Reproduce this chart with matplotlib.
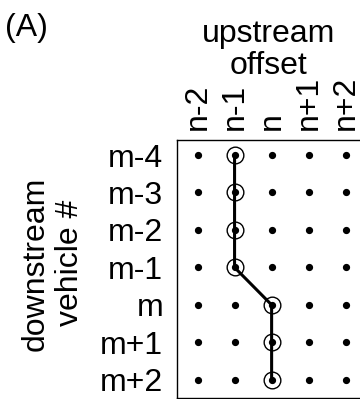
import numpy as np
import matplotlib
matplotlib.use("Agg")
import matplotlib.pyplot as plt

plt.rcParams["font.family"] = ["Liberation Sans", "DejaVu Sans"]

upstream_labels = ["n-2", "n-1", "n", "n+1", "n+2"]
downstream_labels = ["m-4", "m-3", "m-2", "m-1", "m", "m+1", "m+2"]
# upstream column matched to each downstream vehicle
matched_col = [1, 1, 1, 1, 2, 2, 2]


def main():
    fig = plt.figure(figsize=(3.6, 3.99), dpi=100)
    ax = fig.add_axes([0.492, 0.003, 0.525, 0.646])

    nx = len(upstream_labels)
    ny = len(downstream_labels)
    xx, yy = np.meshgrid(np.arange(nx), np.arange(ny))
    ax.plot(xx.ravel(), yy.ravel(), "o", color="black", markersize=4.2, zorder=2)

    rows = np.arange(ny)
    ax.plot(matched_col, rows, "-", color="black", linewidth=2.2, zorder=3)
    ax.plot(matched_col, rows, "o", markerfacecolor="none", markeredgecolor="black",
            markersize=12, markeredgewidth=1.0, zorder=4)

    ax.set_xlim(-0.55, nx - 1 + 0.55)
    ax.set_ylim(ny - 1 + 0.48, -0.4)

    fs = 23
    ax.set_xticks(np.arange(nx))
    ax.set_xticklabels(upstream_labels, rotation=90, fontsize=fs)
    ax.xaxis.tick_top()
    ax.set_yticks(rows)
    ax.set_yticklabels(downstream_labels, fontsize=fs)
    ax.tick_params(axis="y", length=0, pad=10)
    ax.tick_params(axis="x", length=0, pad=7)

    for s in ax.spines.values():
        s.set_linewidth(1.0)

    fig.text(0.747, 0.875, "upstream\noffset", ha="center", va="center",
             fontsize=fs, linespacing=1.1)
    fig.text(0.147, 0.34, "downstream\nvehicle #", ha="center", va="center",
             rotation=90, fontsize=fs, linespacing=1.2)
    fig.text(0.014, 0.93, "(A)", ha="left", va="center", fontsize=fs)

    fig.savefig("out.png", dpi=100)


if __name__ == '__main__':
    main()
